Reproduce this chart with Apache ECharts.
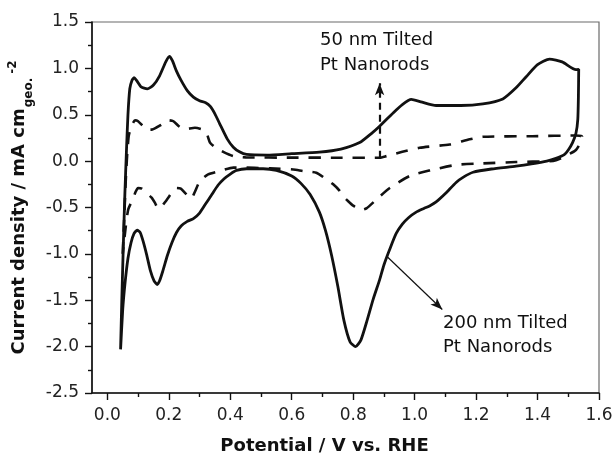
<!DOCTYPE html>
<html><head><meta charset="utf-8">
<script src="https://cdn.jsdelivr.net/npm/echarts@6/dist/echarts.min.js"></script>
<style>html,body{margin:0;padding:0;background:#fff}#c{width:616px;height:456px}</style>
</head><body><div id="c"></div>
<script>
const xTickValues = [0.0, 0.2, 0.4, 0.6, 0.8, 1.0, 1.2, 1.4, 1.6];
const xMinorTickValues = [0.1, 0.3, 0.5, 0.7, 0.9, 1.1, 1.3, 1.5];

// 200 nm Tilted Pt Nanorods (solid) : [potential V, current mA/cm2]
const solid200nm = [
 [0.043,-2.03],[0.047,-1.50],[0.052,-0.90],[0.057,-0.35],[0.062,0.10],[0.067,0.50],[0.073,0.78],[0.080,0.87],[0.087,0.90],[0.095,0.87],
 [0.110,0.80],[0.130,0.78],[0.150,0.82],[0.170,0.92],[0.190,1.07],[0.202,1.13],[0.212,1.08],[0.225,0.97],[0.240,0.87],[0.260,0.76],
 [0.280,0.69],[0.300,0.65],[0.320,0.63],[0.335,0.59],[0.350,0.51],[0.366,0.40],[0.390,0.24],[0.410,0.15],[0.430,0.10],[0.453,0.072],
 [0.520,0.065],[0.600,0.08],[0.690,0.097],[0.760,0.13],[0.821,0.20],[0.860,0.30],[0.886,0.376],[0.930,0.52],[0.960,0.61],[0.989,0.665],
 [1.020,0.64],[1.070,0.60],[1.150,0.60],[1.222,0.617],[1.287,0.67],[1.330,0.79],[1.363,0.91],[1.400,1.04],[1.439,1.10],[1.480,1.07],
 [1.525,0.986],[1.534,0.99],[1.533,0.70],[1.531,0.45],[1.525,0.30],[1.514,0.20],[1.500,0.12],[1.487,0.07],[1.460,0.03],[1.430,0.00],
 [1.380,-0.03],[1.330,-0.054],[1.250,-0.085],[1.190,-0.12],[1.160,-0.17],[1.135,-0.23],[1.100,-0.35],[1.070,-0.44],[1.050,-0.48],[1.030,-0.51],
 [1.005,-0.55],[0.980,-0.61],[0.960,-0.68],[0.940,-0.78],[0.919,-0.95],[0.900,-1.12],[0.886,-1.28],[0.865,-1.49],[0.845,-1.72],[0.825,-1.93],
 [0.808,-2.00],[0.790,-1.95],[0.770,-1.72],[0.750,-1.35],[0.730,-1.02],[0.710,-0.75],[0.690,-0.55],[0.660,-0.36],[0.630,-0.24],[0.600,-0.16],
 [0.550,-0.10],[0.507,-0.082],[0.453,-0.082],[0.420,-0.10],[0.400,-0.14],[0.380,-0.19],[0.360,-0.26],[0.340,-0.36],[0.320,-0.46],[0.300,-0.56],
 [0.280,-0.62],[0.260,-0.65],[0.240,-0.70],[0.225,-0.77],[0.210,-0.88],[0.195,-1.02],[0.180,-1.19],[0.170,-1.29],[0.162,-1.33],[0.152,-1.29],
 [0.140,-1.18],[0.128,-1.01],[0.117,-0.87],[0.107,-0.77],[0.097,-0.745],[0.087,-0.78],[0.077,-0.88],[0.067,-1.05],[0.058,-1.30],[0.050,-1.60],
 [0.043,-2.03]
];

// 50 nm Tilted Pt Nanorods (dashed)
const dashed50nm = [
 [0.050,-1.00],[0.055,-0.60],[0.060,-0.20],[0.065,0.10],[0.070,0.28],[0.079,0.38],[0.090,0.44],[0.100,0.43],[0.115,0.38],[0.128,0.34],
 [0.145,0.34],[0.177,0.395],[0.200,0.44],[0.215,0.43],[0.235,0.37],[0.2525,0.345],[0.285,0.36],[0.310,0.34],[0.323,0.30],[0.334,0.20],
 [0.350,0.15],[0.377,0.10],[0.410,0.054],[0.450,0.040],[0.600,0.038],[0.750,0.037],[0.886,0.037],[0.908,0.054],[0.960,0.100],[1.016,0.144],
 [1.114,0.18],[1.179,0.235],[1.222,0.262],[1.384,0.269],[1.525,0.276],[1.545,0.265],[1.540,0.200],[1.525,0.120],[1.500,0.070],[1.493,0.054],
 [1.460,0.010],[1.439,0.000],[1.330,-0.010],[1.222,-0.025],[1.135,-0.040],[1.050,-0.100],[0.984,-0.160],[0.919,-0.290],[0.880,-0.400],[0.843,-0.510],
 [0.827,-0.527],[0.800,-0.480],[0.783,-0.430],[0.767,-0.376],[0.756,-0.320],[0.735,-0.250],[0.713,-0.197],[0.680,-0.125],[0.637,-0.107],[0.605,-0.090],
 [0.529,-0.078],[0.453,-0.070],[0.410,-0.070],[0.366,-0.107],[0.328,-0.143],[0.301,-0.215],[0.285,-0.330],[0.273,-0.405],[0.255,-0.350],[0.239,-0.297],
 [0.225,-0.290],[0.212,-0.330],[0.202,-0.376],[0.188,-0.440],[0.174,-0.500],[0.165,-0.510],[0.155,-0.450],[0.144,-0.394],[0.128,-0.345],[0.112,-0.297],
 [0.100,-0.290],[0.092,-0.330],[0.085,-0.394],[0.068,-0.520],[0.060,-0.700],[0.050,-1.000]
];

// annotation anchors (data coordinates)
const arrow200From = [0.91, -1.028], arrow200To = [1.09, -1.60];
const arrow50From = [0.886, 0.037], arrow50To = [0.886, 0.84];

const font = 'DejaVu Sans';
const chart = echarts.init(document.getElementById('c'));
const tickStyle = {color:'#111', width:1.4};
chart.setOption({
  animation:false,
  backgroundColor:'#fff',
  grid:{left:92,right:17,top:22,bottom:63,show:true,borderColor:'#6a6a6a',borderWidth:1.2,containLabel:false,outerBoundsMode:'none'},
  xAxis:[{
    type:'value', min:-0.05, max:1.6, position:'bottom',
    splitLine:{show:false},
    axisLine:{show:true,onZero:false,lineStyle:{color:'#111',width:1.6}},
    axisTick:{show:true,inside:false,length:7,customValues:xTickValues,lineStyle:tickStyle},
    axisLabel:{show:true,customValues:xTickValues,margin:14,color:'#222',fontFamily:font,fontSize:17,formatter:v=>v.toFixed(1)},
    name:'Potential / V vs. RHE', nameLocation:'middle', nameGap:44,
    nameTextStyle:{fontFamily:font,fontSize:18,fontWeight:'bold',color:'#111',padding:[0,42,0,0]}
  },{
    type:'value', min:-0.05, max:1.6, position:'bottom',
    axisLine:{show:false,onZero:false}, splitLine:{show:false}, axisLabel:{show:false},
    axisTick:{show:true,inside:false,length:4,customValues:xMinorTickValues,lineStyle:tickStyle}
  }],
  yAxis:{
    type:'value', min:-2.5, max:1.5, interval:0.5,
    splitLine:{show:false},
    axisLine:{show:true,onZero:false,lineStyle:{color:'#111',width:1.6}},
    axisTick:{show:true,inside:false,length:7,lineStyle:tickStyle},
    minorTick:{show:true,splitNumber:2,length:4,lineStyle:tickStyle},
    minorSplitLine:{show:false},
    axisLabel:{margin:13,color:'#222',fontFamily:font,fontSize:17,formatter:v=>v.toFixed(1)},
    name:'{m|Current density / mA cm}{sub|geo.}{sup|-2}',
    nameLocation:'middle', nameRotate:90, nameGap:46,
    nameTextStyle:{
      fontFamily:font,fontSize:18,fontWeight:'bold',color:'#111',
      rich:{
        m:{fontFamily:font,fontSize:18,fontWeight:'bold',color:'#111',lineHeight:40},
        sub:{fontFamily:font,fontSize:12,fontWeight:'bold',color:'#111',lineHeight:12,padding:[20,0,0,1]},
        sup:{fontFamily:font,fontSize:12,fontWeight:'bold',color:'#111',lineHeight:12,padding:[0,0,12,4]}
      }
    }
  },
  series:[{
    type:'line', name:'200 nm', data:solid200nm, xAxisIndex:0, showSymbol:false, smooth:0.2,
    lineStyle:{color:'#111',width:2.8}, z:3,
    markLine:{silent:true, symbol:['none','arrow'], symbolSize:[7,12], label:{show:false},
      lineStyle:{color:'#111',width:1.2,type:'solid'},
      data:[[{coord:arrow200From},{coord:arrow200To}]]}
  },{
    type:'line', name:'50 nm', data:dashed50nm, xAxisIndex:0, showSymbol:false, smooth:0.2,
    lineStyle:{color:'#111',width:2.6,type:[12,10]}, z:2,
    markLine:{silent:true, symbol:['none','arrow'], symbolSize:[7,12], label:{show:false},
      lineStyle:{color:'#111',width:2.2,type:[7,5]},
      data:[[{coord:arrow50From},{coord:arrow50To}]]}
  }],
  graphic:[
    {type:'text', left:320, top:27.5, style:{text:'50 nm Tilted\nPt Nanorods', font:'18px "DejaVu Sans"', lineHeight:25, fill:'#111'}},
    {type:'text', left:443, top:311.6, style:{text:'200 nm Tilted\nPt Nanorods', font:'18px "DejaVu Sans"', lineHeight:24, fill:'#111'}}
  ]
});
</script></body></html>
